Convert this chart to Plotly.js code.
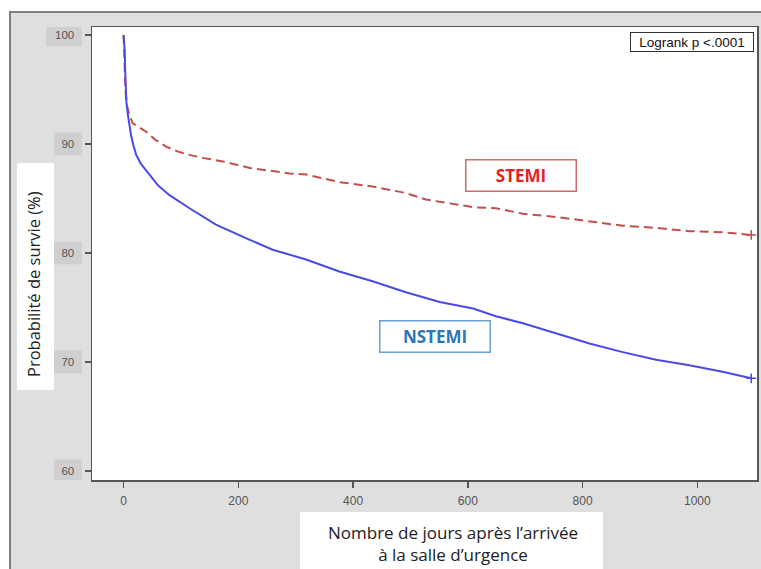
<!DOCTYPE html>
<html>
<head>
<meta charset="utf-8">
<script src="https://cdn.plot.ly/plotly-3.0.1.min.js"></script>
<style>html,body{margin:0;padding:0;background:#fff;}#chart{width:761px;height:569px;}</style>
</head>
<body>
<div id="chart"></div>
<script>
// Days since arrival and survival probability (%)
const daysStemi = [0, 2, 3.5, 6, 10, 16, 25, 40, 55, 74, 95, 115, 140, 173, 220, 289, 318, 376, 434, 492, 527, 609, 649, 696, 754, 812, 870, 928, 986, 1044, 1094];
const survStemi = [100, 97, 94.8, 93.5, 92.7, 91.9, 91.6, 91.1, 90.4, 89.75, 89.3, 89.0, 88.7, 88.4, 87.8, 87.3, 87.2, 86.5, 86.1, 85.5, 84.9, 84.2, 84.1, 83.6, 83.3, 82.9, 82.5, 82.3, 82.0, 81.9, 81.65];
const daysNstemi = [0, 1, 2, 3, 3.5, 5, 7.5, 10, 13, 17, 22, 30, 45, 60, 80, 100, 115, 161, 190, 220, 260, 318, 376, 434, 492, 551, 609, 649, 696, 754, 812, 870, 928, 986, 1044, 1094];
const survNstemi = [100, 99.3, 98.6, 96.5, 95.1, 93.8, 92.7, 91.7, 90.8, 89.9, 89.0, 88.2, 87.2, 86.2, 85.3, 84.6, 84.1, 82.6, 81.9, 81.2, 80.3, 79.4, 78.3, 77.4, 76.4, 75.5, 74.9, 74.2, 73.55, 72.6, 71.7, 70.9, 70.2, 69.7, 69.1, 68.5];
const yTicks = [60, 70, 80, 90, 100];
const xTicks = [0, 200, 400, 600, 800, 1000];
const groupLabels = ["STEMI", "NSTEMI"];
const pText = "Logrank p <.0001";
const xTitle = "Nombre de jours après l’arrivée<br>à la salle d’urgence";
const yTitle = "Probabilité de survie (%)";

const red = "#c0504d";
const blue = "#4a4ae6";

const traces = [
  {x: daysStemi, y: survStemi, type: "scatter", mode: "lines", name: groupLabels[0],
   line: {color: red, width: 2, dash: "9px,5px"}, hoverinfo: "x+y"},
  {x: daysNstemi, y: survNstemi, type: "scatter", mode: "lines", name: groupLabels[1],
   line: {color: blue, width: 2}, hoverinfo: "x+y"},
  {x: [daysStemi[daysStemi.length-1]], y: [survStemi[survStemi.length-1]], type: "scatter", mode: "markers",
   marker: {symbol: "cross-thin", size: 7, line: {color: red, width: 1.5}}, showlegend: false, hoverinfo: "skip"},
  {x: [daysNstemi[daysNstemi.length-1]], y: [survNstemi[survNstemi.length-1]], type: "scatter", mode: "markers",
   marker: {symbol: "cross-thin", size: 7, line: {color: blue, width: 1.5}}, showlegend: false, hoverinfo: "skip"}
];

// plot area in pixels: left 92, right 757, top 27, bottom 480
const W = 761, H = 569, L = 92, R = 757, T = 27, B = 480;
const px = v => (v - L) / (R - L);
const py = v => (B - v) / (B - T);

const shapes = [
  {type: "rect", xref: "paper", yref: "paper", x0: px(10), x1: px(775), y0: py(585), y1: py(12),
   fillcolor: "#dfdfdf", line: {color: "#808080", width: 2}, layer: "below"},
  {type: "rect", xref: "paper", yref: "paper", x0: px(17), x1: px(54), y0: py(390), y1: py(163),
   fillcolor: "#ffffff", line: {width: 0}, layer: "below"},
  {type: "rect", xref: "paper", yref: "paper", x0: px(300), x1: px(603), y0: py(575), y1: py(512),
   fillcolor: "#ffffff", line: {width: 0}, layer: "below"},
  {type: "rect", xref: "paper", yref: "paper", x0: 0, x1: 1, y0: 0, y1: 1,
   fillcolor: "#ffffff", line: {width: 0}, layer: "below"}
];
yTicks.forEach(v => {
  const w = String(v).length >= 3 ? 36 : 28;
  shapes.push({type: "rect", xref: "paper", yref: "y", x0: px(82 - w), x1: px(82), y0: v - 1.05, y1: v + 1.05,
    fillcolor: "#cfcfcf", line: {width: 0}, layer: "below"});
});

const annotations = [
  {xref: "paper", yref: "paper", x: px(692), y: py(42), xanchor: "center", yanchor: "middle",
   text: pText, showarrow: false,
   font: {family: "Liberation Sans, Arial", size: 13.5, color: "#111"},
   bgcolor: "#ffffff", bordercolor: "#333", borderwidth: 1, borderpad: 1, width: 120, height: 16},
  {xref: "paper", yref: "paper", x: px(521), y: py(175.5), xanchor: "center", yanchor: "middle",
   text: "<b>" + groupLabels[0] + "</b>", showarrow: false,
   font: {family: "Open Sans, Noto Sans", size: 17, color: "#e82020"},
   bgcolor: "#ffffff", bordercolor: "#d06a6a", borderwidth: 1.5, borderpad: 0, width: 109, height: 30},
  {xref: "paper", yref: "paper", x: px(434.5), y: py(336.5), xanchor: "center", yanchor: "middle",
   text: "<b>" + groupLabels[1] + "</b>", showarrow: false,
   font: {family: "Open Sans, Noto Sans", size: 17, color: "#2e75b6"},
   bgcolor: "#ffffff", bordercolor: "#6a9fd6", borderwidth: 1.5, borderpad: 0, width: 109, height: 30},
  {xref: "paper", yref: "paper", x: px(453), y: py(543), xanchor: "center", yanchor: "middle",
   text: xTitle, showarrow: false,
   font: {family: "Open Sans, Noto Sans", size: 17, color: "#222"}},
  {xref: "paper", yref: "paper", x: px(33), y: py(284), xanchor: "center", yanchor: "middle",
   text: yTitle, showarrow: false, textangle: -90,
   font: {family: "Open Sans, Noto Sans", size: 16.5, color: "#222"}}
];

const layout = {
  width: W, height: H,
  margin: {l: L, r: W - R, t: T, b: H - B, pad: 0},
  paper_bgcolor: "#ffffff",
  plot_bgcolor: "rgba(0,0,0,0)",
  showlegend: false,
  xaxis: {range: [-55, 1104], tickvals: xTicks, ticks: "outside", ticklen: 6, tickwidth: 1.5, tickcolor: "#555",
    showline: true, linecolor: "#555", linewidth: 1.5, mirror: true, showgrid: false, zeroline: false,
    tickfont: {family: "Liberation Sans, Arial", size: 12, color: "#555"}, ticklabelstandoff: 3},
  yaxis: {range: [59.17, 100.73], tickvals: yTicks, ticks: "outside", ticklen: 6, tickwidth: 1.5, tickcolor: "#555",
    showline: true, linecolor: "#555", linewidth: 1.5, mirror: true, showgrid: false, zeroline: false,
    tickfont: {family: "Liberation Sans, Arial", size: 11.5, color: "#555"}, ticklabelstandoff: 8},
  shapes: shapes,
  annotations: annotations
};

Plotly.newPlot("chart", traces, layout, {displayModeBar: false, staticPlot: true});
</script>
</body>
</html>
